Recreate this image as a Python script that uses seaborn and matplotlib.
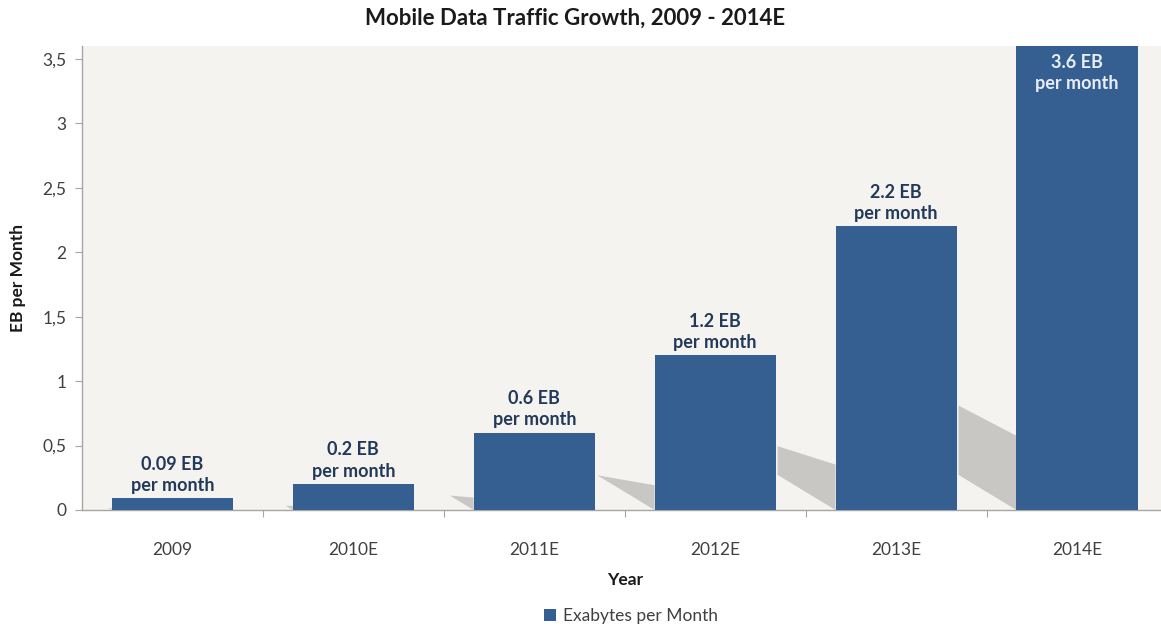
import matplotlib
matplotlib.use("Agg")
import matplotlib.pyplot as plt
import seaborn as sns
import pandas as pd
import numpy as np

# Chart data
years = ["2009", "2010E", "2011E", "2012E", "2013E", "2014E"]
traffic_eb = [0.09, 0.2, 0.6, 1.2, 2.2, 3.6]
value_labels = ["0.09 EB", "0.2 EB", "0.6 EB", "1.2 EB", "2.2 EB", "3.6 EB"]
series_name = "Exabytes per Month"
y_ticks = [0, 0.5, 1, 1.5, 2, 2.5, 3, 3.5]
y_tick_labels = ["0", "0,5", "1", "1,5", "2", "2,5", "3", "3,5"]

BAR = "#355f91"
LABEL = "#22395a"
PLOT_BG = "#f4f3ef"
SHADOW = "#c8c7c3"

sns.set_theme(style="white")
plt.rcParams["font.family"] = ["Lato", "DejaVu Sans"]

df = pd.DataFrame({"Year": years, "EB": traffic_eb, "Series": series_name})

fig = plt.figure(figsize=(11.61, 6.30), dpi=100)
fig.patch.set_facecolor("white")
ax = fig.add_axes([0.0706, 0.1905, 0.935, 0.7365])
ax.set_facecolor(PLOT_BG)

sns.barplot(data=df, x="Year", y="EB", hue="Series", palette=[BAR],
            dodge=False, width=0.67, saturation=1, linewidth=0,
            ax=ax, zorder=3)

ax.set_xlim(-0.5, len(years) - 0.5)
ax.set_ylim(0, 3.6)

# Soft floor shadows cast back-left from each bar
for patch, h in zip(ax.patches, traffic_eb):
    x0 = patch.get_x()
    top_edge = 0.16 * h
    top_slope = 0.065 * h / 0.32
    bottom_slope = 0.85
    closure = top_edge / (bottom_slope - top_slope)
    dx = min(0.32, closure)
    xs = [x0, x0, x0 - dx, x0 - dx]
    ys = [0, top_edge, top_edge + top_slope * dx, bottom_slope * dx]
    ax.fill(xs, ys, color=SHADOW, lw=0, zorder=2)

# Value labels
for patch, h, lab in zip(ax.patches, traffic_eb, value_labels):
    cx = patch.get_x() + patch.get_width() / 2
    if h > 3.0:
        ax.text(cx, h - 0.06, lab + "\nper month", ha="center", va="top",
                fontsize=13, fontweight="bold", color="#e9eef5",
                linespacing=1.3, zorder=5)
    else:
        ax.text(cx, h + 0.035, lab + "\nper month", ha="center", va="bottom",
                fontsize=13, fontweight="bold", color=LABEL,
                linespacing=1.3, zorder=5)

# Axes styling
for side in ["top", "right"]:
    ax.spines[side].set_visible(False)
for side in ["left", "bottom"]:
    ax.spines[side].set_color("#a6a6a6")
    ax.spines[side].set_linewidth(1.0)

ax.set_yticks(y_ticks)
ax.set_yticklabels(y_tick_labels)
ax.tick_params(axis="y", which="major", left=True, length=5, width=0.8,
               color="#a6a6a6", labelsize=12.5, labelcolor="#404040", pad=6)
ax.set_xticks(range(len(years)))
ax.set_xticklabels(years)
ax.set_xticks(np.arange(0.5, len(years) - 0.5, 1.0), minor=True)
ax.tick_params(axis="x", which="major", bottom=False, labelsize=12.5,
               labelcolor="#404040", pad=17)
ax.tick_params(axis="x", which="minor", bottom=True, length=5, width=0.8,
               color="#a6a6a6")

ax.set_xlabel("Year", fontsize=12.5, fontweight="bold", color="#1a1a1a", labelpad=10)
ax.set_ylabel("EB per Month", fontsize=12.5, fontweight="bold", color="#1a1a1a", labelpad=12)

fig.suptitle("Mobile Data Traffic Growth, 2009 - 2014E", x=0.495, y=0.988,
             fontsize=16, fontweight="bold", color="#1a1a1a")

sns.move_legend(ax, "center", bbox_to_anchor=(0.506, -0.228),
                frameon=False, title=None, fontsize=12.5, handlelength=0.7,
                handleheight=0.7, handletextpad=0.4)
for t in ax.get_legend().get_texts():
    t.set_color("#404040")

fig.savefig("out.png", dpi=100, facecolor="white")
